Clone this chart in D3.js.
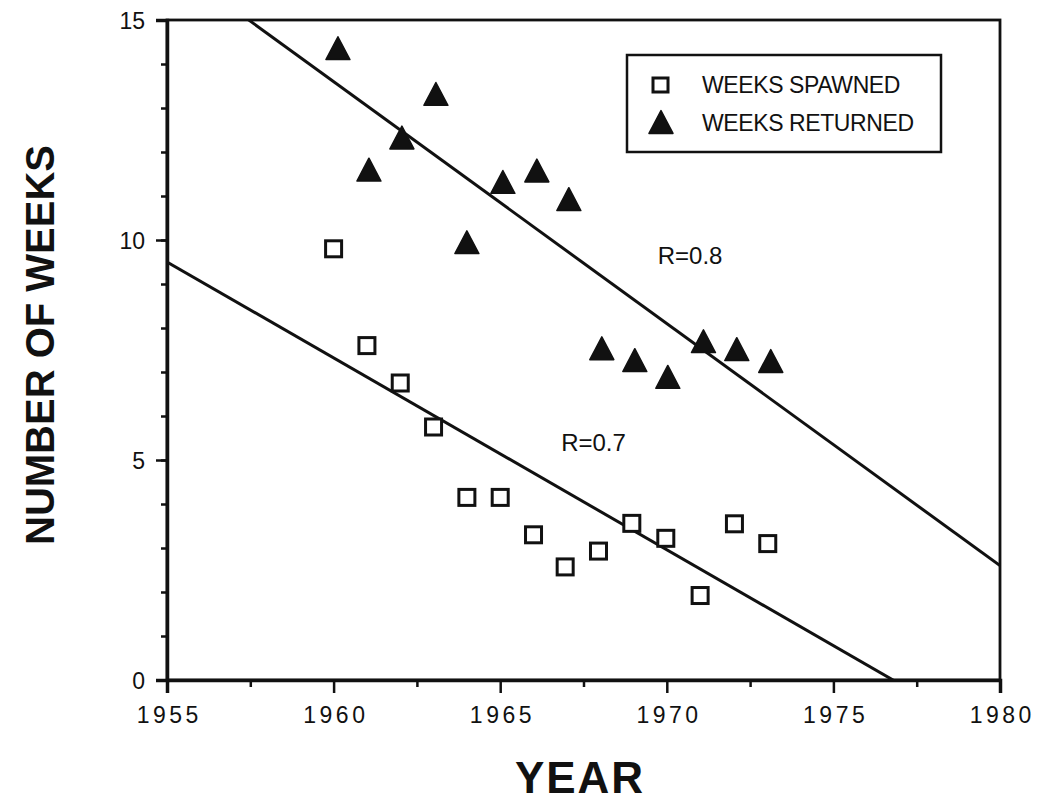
<!DOCTYPE html>
<html>
<head>
<meta charset="utf-8">
<script src="https://cdn.jsdelivr.net/npm/d3@7"></script>
<style>
  html, body { margin: 0; padding: 0; background: #fff; }
  svg { display: block; }
  text { font-family: "Liberation Sans", Arial, Helvetica, sans-serif; fill: #111; }
</style>
</head>
<body>
<svg id="chart" width="1040" height="803"></svg>
<script>
// Weeks of spawning and of adult returns per year
const spawnedYears  = [1960.0, 1961.0, 1962.0, 1963.0, 1964.0, 1965.0, 1966.0, 1966.95, 1967.95, 1968.95, 1969.97, 1971.0, 1972.03, 1973.03];
const spawnedWeeks  = [9.8, 7.6, 6.75, 5.75, 4.15, 4.15, 3.3, 2.57, 2.93, 3.56, 3.22, 1.92, 3.55, 3.1];
const returnedYears = [1960.13, 1961.06, 1962.05, 1963.07, 1964.0, 1965.08, 1966.1, 1967.06, 1968.05, 1969.04, 1970.03, 1971.1, 1972.1, 1973.12];
const returnedWeeks = [14.36, 11.6, 12.33, 13.32, 9.95, 11.32, 11.58, 10.93, 7.54, 7.27, 6.89, 7.7, 7.52, 7.25];

// Regression lines: [year, weeks] end points
const returnedFit = [[1955, 16.35], [1980, 2.6]];
const spawnedFit  = [[1955, 9.5], [1980, -1.4]];
const fitLabels   = [{ text: "R=0.8", x: 1970.7, y: 9.45 }, { text: "R=0.7", x: 1967.8, y: 5.2 }];

const xTicks = [1955, 1960, 1965, 1970, 1975, 1980];
const xMinor = [1957.5, 1962.5, 1967.5, 1972.5, 1977.5];
const yTicks = [0, 5, 10, 15];
const yMinor = d3.range(0, 16);

const legendItems = ["WEEKS SPAWNED", "WEEKS RETURNED"];

const svg = d3.select("#chart");
const x = d3.scaleLinear().domain([1955, 1980]).range([167, 1000]);
const y = d3.scaleLinear().domain([0, 15]).range([680, 20]);

// upward triangle centred on its bounding box
const triangle = {
  draw(ctx, size) {
    const w = Math.sqrt(size), h = w * 0.95;
    ctx.moveTo(0, -h / 2);
    ctx.lineTo(w / 2, h / 2);
    ctx.lineTo(-w / 2, h / 2);
    ctx.closePath();
  }
};
const tri = d3.symbol().type(triangle).size(24 * 24);

// clip for fit lines
svg.append("clipPath").attr("id", "plotClip")
  .append("rect").attr("x", x(1955)).attr("y", y(15))
  .attr("width", x(1980) - x(1955)).attr("height", y(0) - y(15));

// frame
svg.append("rect")
  .attr("x", x(1955)).attr("y", y(15))
  .attr("width", x(1980) - x(1955)).attr("height", y(0) - y(15))
  .attr("fill", "none").attr("stroke", "#111").attr("stroke-width", 2.8);

// y axis
const yAxis = svg.append("g").attr("transform", `translate(${x(1955)},0)`)
  .call(d3.axisLeft(y).tickValues(yTicks).tickSize(11).tickFormat(d3.format("d")));
svg.append("g").attr("transform", `translate(${x(1955)},0)`)
  .call(d3.axisLeft(y).tickValues(yMinor).tickSize(6).tickFormat(""))
  .call(g => g.select(".domain").remove());

// x axis
const xAxis = svg.append("g").attr("transform", `translate(0,${y(0)})`)
  .call(d3.axisBottom(x).tickValues(xTicks).tickSize(13).tickFormat(d3.format("d")));
svg.append("g").attr("transform", `translate(0,${y(0)})`)
  .call(d3.axisBottom(x).tickValues(xMinor).tickSize(7).tickFormat(""))
  .call(g => g.select(".domain").remove());

svg.selectAll(".domain").attr("stroke", "#111").attr("stroke-width", 3.5);
svg.selectAll(".tick line").attr("stroke", "#111").attr("stroke-width", 2.5);
yAxis.selectAll(".tick text").attr("font-size", 23).attr("x", -22).attr("dy", "0.36em");
xAxis.selectAll(".tick text").attr("font-size", 23).attr("letter-spacing", 3.5)
  .attr("dx", 1.75).attr("y", 27);

// fit lines
const line = d3.line().x(d => x(d[0])).y(d => y(d[1]));
const fits = svg.append("g").attr("clip-path", "url(#plotClip)");
[returnedFit, spawnedFit].forEach(f => {
  fits.append("path").attr("d", line(f))
    .attr("fill", "none").attr("stroke", "#111").attr("stroke-width", 3);
});

svg.selectAll(".fitLabel").data(fitLabels).enter().append("text")
  .attr("class", "fitLabel")
  .attr("x", d => x(d.x)).attr("y", d => y(d.y))
  .attr("text-anchor", "middle").attr("font-size", 24)
  .text(d => d.text);

// markers
const spawned = spawnedYears.map((yr, i) => [yr, spawnedWeeks[i]]);
const returned = returnedYears.map((yr, i) => [yr, returnedWeeks[i]]);

svg.append("g").selectAll("rect").data(spawned).enter().append("rect")
  .attr("x", d => x(d[0]) - 8).attr("y", d => y(d[1]) - 8)
  .attr("width", 16).attr("height", 16)
  .attr("fill", "#fff").attr("stroke", "#111").attr("stroke-width", 3);

svg.append("g").selectAll("path").data(returned).enter().append("path")
  .attr("d", tri)
  .attr("transform", d => `translate(${x(d[0])},${y(d[1])})`)
  .attr("fill", "#111").attr("stroke", "#111").attr("stroke-width", 1.5).attr("stroke-linejoin", "round");

// legend
const lg = svg.append("g");
lg.append("rect").attr("x", 627).attr("y", 55).attr("width", 314).attr("height", 97)
  .attr("fill", "#fff").attr("stroke", "#111").attr("stroke-width", 2.5);
lg.append("rect").attr("x", 653).attr("y", 78).attr("width", 15).attr("height", 14)
  .attr("fill", "none").attr("stroke", "#111").attr("stroke-width", 3);
lg.append("path").attr("d", tri).attr("transform", "translate(661,122)")
  .attr("fill", "#111").attr("stroke", "#111").attr("stroke-width", 1.5).attr("stroke-linejoin", "round");
lg.selectAll("text").data(legendItems).enter().append("text")
  .attr("x", 702).attr("y", (d, i) => 85 + i * 38)
  .attr("dy", "0.36em").attr("font-size", 23).attr("letter-spacing", -0.4)
  .text(d => d);

// axis titles
svg.append("text").attr("x", 580).attr("y", 793)
  .attr("text-anchor", "middle").attr("font-size", 44).attr("font-weight", "bold")
  .attr("letter-spacing", 2).text("YEAR");
svg.append("text")
  .attr("transform", `translate(54,${345}) rotate(-90)`)
  .attr("text-anchor", "middle").attr("font-size", 40).attr("font-weight", "bold")
  .text("NUMBER OF WEEKS");
</script>
</body>
</html>
